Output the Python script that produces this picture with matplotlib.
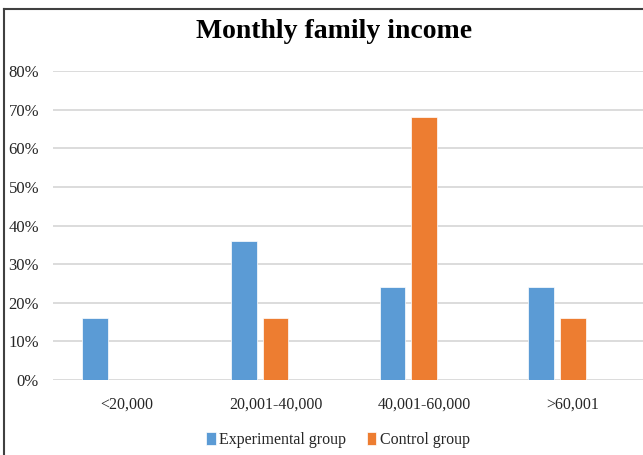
import numpy as np
import matplotlib
matplotlib.use('Agg')
import matplotlib.pyplot as plt
import matplotlib.transforms as mtransforms
from matplotlib.lines import Line2D
from matplotlib.ticker import PercentFormatter

categories = ['<20,000', '20,001-40,000', '40,001-60,000', '>60,001']
experimental = [0.16, 0.36, 0.24, 0.24]
control = [0.0, 0.16, 0.68, 0.16]
series_names = ['Experimental group', 'Control group']
colors = ['#5B9BD5', '#ED7D31']

plt.rcParams['font.family'] = ['Liberation Serif', 'DejaVu Serif']


def main():
    fig = plt.figure(figsize=(6.43, 4.55), dpi=100)
    ax = fig.add_axes([53 / 643, 75 / 455, 590 / 643, 309 / 455])

    x = np.arange(len(categories))
    width = 0.174
    off = 0.107
    ax.bar(x - off, experimental, width, color=colors[0], edgecolor='white',
           linewidth=0.5, label=series_names[0], zorder=3)
    ax.bar(x + off, control, width, color=colors[1], edgecolor='white',
           linewidth=0.5, label=series_names[1], zorder=3)

    ax.set_xlim(-0.389, 3.577)
    ax.set_ylim(0, 0.8)
    ax.set_yticks(np.arange(0, 0.81, 0.1))
    ax.yaxis.set_major_formatter(PercentFormatter(1.0, decimals=0))
    ax.set_xticks(x)
    ax.set_xticklabels(categories)
    ax.grid(axis='y', color='#D9D9D9', linewidth=1.3, zorder=0)
    ax.tick_params(axis='both', length=0, labelsize=12, colors='#262626')
    ax.tick_params(axis='x', pad=12, labelsize=11.5)
    ax.tick_params(axis='y', pad=10)
    for s in ax.spines.values():
        s.set_visible(False)

    # labels sit a bit right of the bar pairs in the reference
    shift = mtransforms.ScaledTranslation(16 / 100, 0, fig.dpi_scale_trans)
    for lbl in ax.get_xticklabels():
        lbl.set_transform(lbl.get_transform() + shift)

    fig.text(334 / 643, 1 - 31 / 455, 'Monthly family income', ha='center',
             va='center', fontsize=20, fontweight='bold', color='black')

    fig.legend(loc='center', bbox_to_anchor=(338 / 643, 1 - 440 / 455),
               ncol=2, frameon=False, fontsize=11.5, handlelength=0.6,
               handleheight=0.9, handletextpad=0.2, columnspacing=1.3,
               labelcolor='#262626')

    # outer border (top and left only visible in the reference)
    fig.add_artist(Line2D([4 / 643, 1], [1 - 9 / 455, 1 - 9 / 455],
                          transform=fig.transFigure, color='#404040', lw=1.5))
    fig.add_artist(Line2D([4 / 643, 4 / 643], [0, 1 - 9 / 455],
                          transform=fig.transFigure, color='#404040', lw=1.5))

    fig.savefig('out.png', dpi=100)


if __name__ == '__main__':
    main()
